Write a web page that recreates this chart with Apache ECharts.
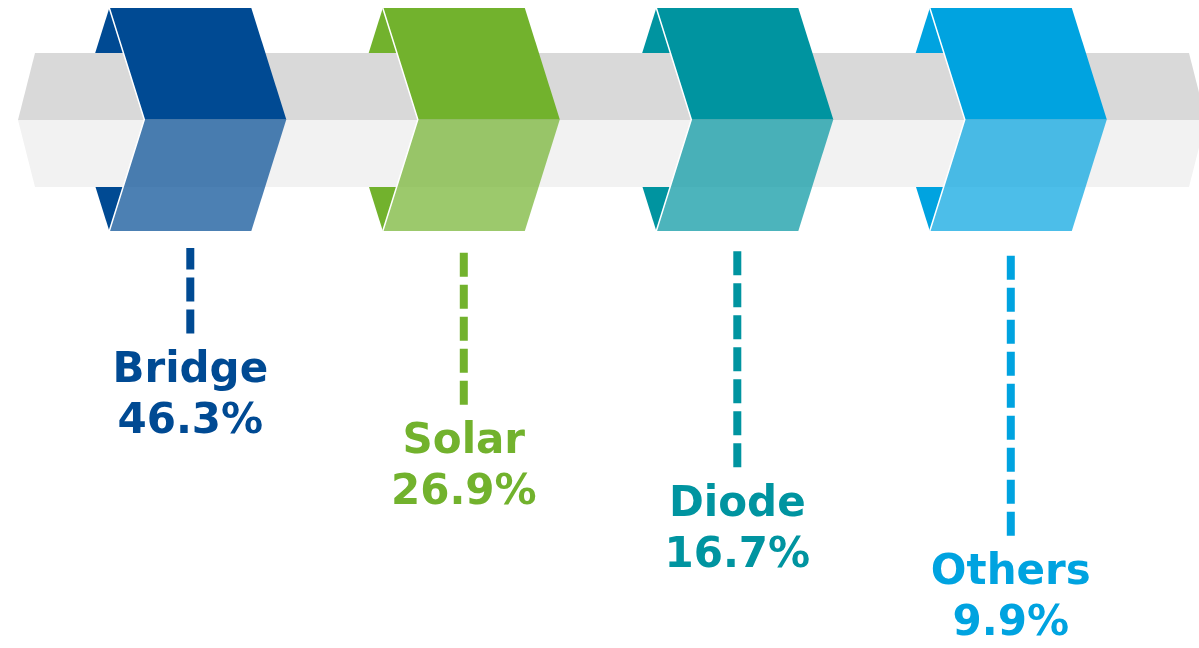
<!DOCTYPE html>
<html>
<head>
<meta charset="utf-8">
<style>
  html, body { margin: 0; padding: 0; background: #ffffff; }
  #chart { width: 1199px; height: 648px; }
</style>
<script src="https://cdn.jsdelivr.net/npm/echarts@6/dist/echarts.min.js"></script>
</head>
<body>
<div id="chart"></div>
<script>
// ---- data ----
var categories = ['Bridge', 'Solar', 'Diode', 'Others'];
var shares = [46.3, 26.9, 16.7, 9.9];
var colors = ['#004A93', '#72B22D', '#0094A0', '#00A3E0'];

// ---- layout constants (not data) ----
var SHAPE_TOP = 8, SHAPE_MID = 119.5, SHAPE_BOTTOM = 231;
var SHAPE_W = 142, SLANT = 35, SHAPE_OFFSET = -81;
var BAND_TOP = 53, BAND_BOTTOM = 187, BAND_LEFT = 35, BAND_TIP = 17;
var LEADER_START = 248;
var FONT = '"DejaVu Sans", Verdana, sans-serif';

var seriesData = categories.map(function (c, i) { return [i, shares[i]]; });

function hexAlpha(hex, a) {
  var r = parseInt(hex.slice(1, 3), 16), g = parseInt(hex.slice(3, 5), 16), b = parseInt(hex.slice(5, 7), 16);
  return 'rgba(' + r + ',' + g + ',' + b + ',' + a + ')';
}

var chart = echarts.init(document.getElementById('chart'), null, { renderer: 'canvas' });

var option = {
  animation: false,
  backgroundColor: '#ffffff',
  grid: { left: 53.55, width: 1094, top: 232.6, bottom: 0 },
  xAxis: { type: 'category', data: categories, show: false, boundaryGap: true },
  yAxis: { type: 'log', min: 4.2, max: 100, show: false },
  series: [
    {
      // back fold of each ribbon (behind the band)
      type: 'custom', z: 1, clip: false, data: seriesData,
      encode: { x: 0, y: 1 },
      renderItem: function (params, api) {
        var i = api.value(0);
        var cx = api.coord([i, api.value(1)])[0];
        var L = cx + SHAPE_OFFSET;
        return {
          type: 'polygon',
          shape: { points: [[L, SHAPE_TOP], [L - SLANT, SHAPE_MID], [L, SHAPE_BOTTOM], [L + SLANT, SHAPE_MID]] },
          style: { fill: colors[i] }
        };
      }
    },
    {
      // grey band
      type: 'custom', z: 2, clip: false, data: [[0, 10]],
      encode: { x: 0, y: 1 },
      renderItem: function (params, api) {
        var W = api.getWidth();
        var R = W - 10;
        var mid = (BAND_TOP + BAND_BOTTOM) / 2;
        return {
          type: 'group',
          children: [
            { type: 'polygon', shape: { points: [[BAND_LEFT - BAND_TIP, mid], [BAND_LEFT, BAND_TOP], [R, BAND_TOP], [R + BAND_TIP, mid]] }, style: { fill: '#D9D9D9' } },
            { type: 'polygon', shape: { points: [[BAND_LEFT - BAND_TIP, mid], [R + BAND_TIP, mid], [R, BAND_BOTTOM], [BAND_LEFT, BAND_BOTTOM]] }, style: { fill: '#F2F2F2' } }
          ]
        };
      }
    },
    {
      // front of ribbons, leader lines and labels
      type: 'custom', z: 3, clip: false, data: seriesData,
      encode: { x: 0, y: 1 },
      renderItem: function (params, api) {
        var i = api.value(0);
        var v = api.value(1);
        var p = api.coord([i, v]);
        var cx = p[0], yEnd = p[1];
        var L = cx + SHAPE_OFFSET;
        var col = colors[i];
        return {
          type: 'group',
          children: [
            { type: 'polygon', shape: { points: [[L, SHAPE_TOP], [L + SHAPE_W, SHAPE_TOP], [L + SHAPE_W + SLANT, SHAPE_MID], [L + SLANT, SHAPE_MID]] }, style: { fill: col } },
            { type: 'polygon', shape: { points: [[L + SLANT, SHAPE_MID], [L + SHAPE_W + SLANT, SHAPE_MID], [L + SHAPE_W, SHAPE_BOTTOM], [L, SHAPE_BOTTOM]] }, style: { fill: hexAlpha(col, 0.7) } },
            { type: 'polyline', shape: { points: [[L, SHAPE_TOP], [L + SLANT, SHAPE_MID], [L, SHAPE_BOTTOM]] }, style: { stroke: '#ffffff', lineWidth: 1.5, fill: null } },
            { type: 'line', shape: { x1: cx, y1: yEnd, x2: cx, y2: LEADER_START }, style: { stroke: col, lineWidth: 8, lineDash: [24, 8], lineCap: 'butt' } },
            { type: 'text', x: cx, y: yEnd + 63,
              style: { text: categories[i] + '\n' + v.toFixed(1) + '%', align: 'center', verticalAlign: 'middle',
                       fontSize: 42, fontWeight: 'bold', fontFamily: FONT, lineHeight: 51, fill: col } }
          ]
        };
      }
    }
  ]
};
chart.setOption(option);
</script>
</body>
</html>
